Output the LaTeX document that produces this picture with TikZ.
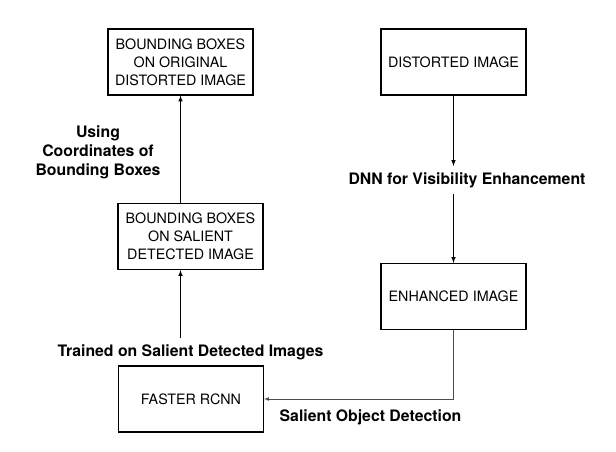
\documentclass[tikz,border=0pt]{standalone}
\usepackage{fontspec}
\setmainfont{TeX Gyre Heros}
\usetikzlibrary{positioning}
\begin{document}
\begin{tikzpicture}[x=1pt,y=1pt,
box/.style={draw,line width=1.1pt,minimum width=145pt,minimum height=66pt,align=center,inner sep=0pt,font=\fontsize{14.3}{18}\selectfont},
lbl/.style={align=center,inner xsep=0pt,inner ysep=6pt,anchor=base,font=\fontsize{15.8}{19}\selectfont\bfseries},
arr/.style={-latex,line width=1pt}]
\useasboundingbox (0,0) rectangle (616,-452);
\node[box] (orig) at (180.5,-62) {BOUNDING BOXES\\ON ORIGINAL\\DISTORTED IMAGE};
\node[box] (sal) at (190.5,-236.5) {BOUNDING BOXES\\ON SALIENT\\DETECTED IMAGE};
\node[box] (rcnn) at (191,-399) {FASTER RCNN};
\node[box] (dist) at (453.5,-62) {DISTORTED IMAGE};
\node[box] (enh) at (453.5,-296.5) {ENHANCED IMAGE};
\node[lbl] (coords) at (98,-175) {Using\\Coordinates of\\Bounding Boxes};
\node[lbl] (dnn) at (467,-184) {DNN for Visibility Enhancement};
\node[lbl] (trained) at (190.5,-356) {Trained on Salient Detected Images};
\node[lbl] (sod) at (370.5,-421) {Salient Object Detection};
\draw[arr] (sal.north -| orig.south) -- (orig.south);
\draw[arr] (trained.north -| orig.south) -- (sal.south -| orig.south);
\draw[arr] (dist.south) -- (dist.south |- dnn.north);
\draw[arr] (dnn.south -| enh.north) -- (enh.north);
\draw[arr,line width=0.7pt,draw=black!70] (enh.south) |- (rcnn.east);
\end{tikzpicture}
\end{document}
